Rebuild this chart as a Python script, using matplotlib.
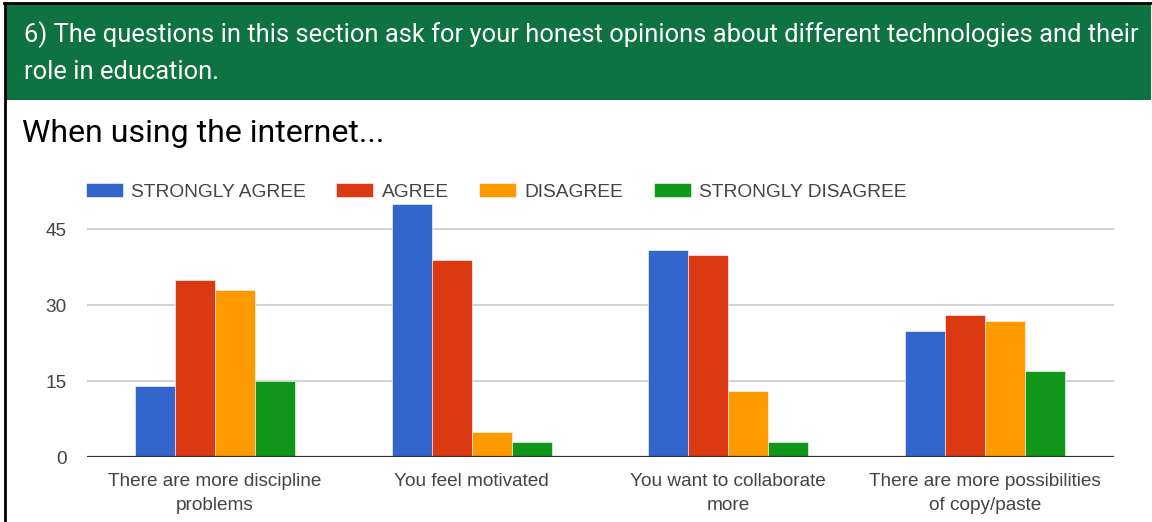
import matplotlib
matplotlib.use('Agg')
import matplotlib.pyplot as plt
import matplotlib.patches as mpatches
import numpy as np

# survey answers per statement
questions = [
	'There are more discipline\nproblems',
	'You feel motivated',
	'You want to collaborate\nmore',
	'There are more possibilities\nof copy/paste',
]
series_names = ['STRONGLY AGREE', 'AGREE', 'DISAGREE', 'STRONGLY DISAGREE']
strongly_agree = [14, 50, 41, 25]
agree = [35, 39, 40, 28]
disagree = [33, 5, 13, 27]
strongly_disagree = [15, 3, 3, 17]
y_ticks = [0, 15, 30, 45]

colors = ['#3366cc', '#dc3912', '#ff9900', '#109618']
W, H = 1152, 522

fig = plt.figure(figsize=(W / 100, H / 100), dpi=100)
fig.patch.set_facecolor('white')

# header band + frame
fig.add_artist(mpatches.Rectangle((5 / W, 1 - 100 / H), (W - 6) / W, 96 / H,
	transform=fig.transFigure, facecolor='#0e7340', edgecolor='none'))
fig.add_artist(plt.Line2D([4 / W, 1], [1 - 3 / H, 1 - 3 / H], transform=fig.transFigure, color='black', lw=2))
fig.add_artist(plt.Line2D([5 / W, 5 / W], [0, 1 - 3 / H], transform=fig.transFigure, color='black', lw=2))

fig.text(24 / W, 1 - 35 / H,
	'6) The questions in this section ask for your honest opinions about different technologies and their',
	color='white', fontsize=18.4, family='Roboto', va='center', ha='left')
fig.text(24 / W, 1 - 72 / H, 'role in education.',
	color='white', fontsize=18.4, family='Roboto', va='center', ha='left')
fig.text(22 / W, 1 - 134 / H, 'When using the internet...',
	color='black', fontsize=23, family='Roboto', va='center', ha='left')

# plot area
left, right, zero_y, top_y = 86.5, 1113.5, 457.3, 204
ax = fig.add_axes([left / W, 1 - zero_y / H, (right - left) / W, (zero_y - top_y) / H])

x = np.arange(len(questions))
w = 0.1556
all_series = [strongly_agree, agree, disagree, strongly_disagree]
for i, vals in enumerate(all_series):
	ax.bar(x + (i - 1.5) * w, vals, width=w, color=colors[i], label=series_names[i],
		edgecolor='white', linewidth=0.4, zorder=3)

ax.set_xlim(-0.5, len(questions) - 0.5)
ax.set_ylim(0, 50)
ax.set_yticks(y_ticks)
ax.set_yticklabels([str(t) for t in y_ticks])
ax.set_xticks(x)
ax.set_xticklabels(questions, linespacing=1.6)
for g in y_ticks[1:]:
	ax.axhline(g, color='#cccccc', lw=1.2, zorder=1)
ax.axhline(0, color='#333333', lw=1.6, zorder=4)

for s in ax.spines.values():
	s.set_visible(False)
ax.tick_params(axis='both', length=0, labelsize=13.7, colors='#444444')
ax.tick_params(axis='y', pad=14)
ax.tick_params(axis='x', pad=11)
for lbl in ax.get_xticklabels() + ax.get_yticklabels():
	lbl.set_family('Liberation Sans')

leg = ax.legend(loc='center left', bbox_to_anchor=(86 / W, 1 - 192 / H),
	bbox_transform=fig.transFigure, ncol=4, frameon=False,
	prop={'family': 'Liberation Sans', 'size': 13.8},
	handlelength=1.93, handleheight=0.73, handletextpad=0.42, columnspacing=1.6,
	borderaxespad=0, borderpad=0)
for t in leg.get_texts():
	t.set_color('#444444')

fig.savefig('out.png', dpi=100)
